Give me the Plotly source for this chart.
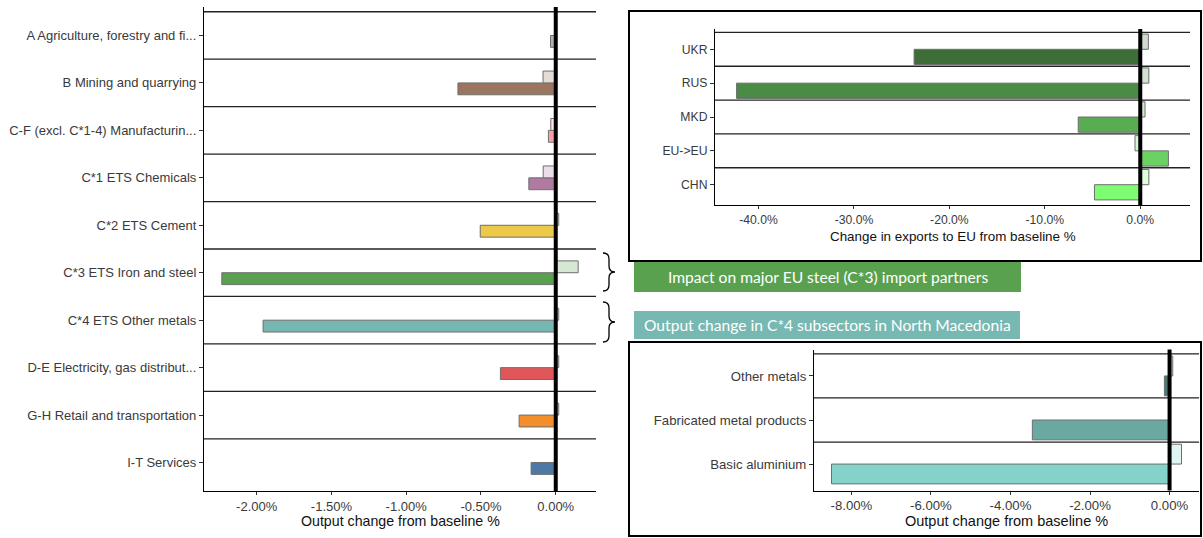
import plotly.graph_objects as go

W, H = 1203, 538

# ---------------- data ----------------
# Sector output change (%), two scenarios per sector
sectors = [
    "A Agriculture, forestry and fi...",
    "B Mining and quarrying",
    "C-F (excl. C*1-4) Manufacturin...",
    "C*1 ETS Chemicals",
    "C*2 ETS Cement",
    "C*3 ETS Iron and steel",
    "C*4 ETS Other metals",
    "D-E Electricity, gas distribut...",
    "G-H Retail and transportation",
    "I-T Services",
]
sector_scen1 = [0.0, -0.085, -0.033, -0.084, 0.02, 0.15, 0.02, 0.02, 0.02, 0.0]
sector_scen2 = [-0.035, -0.654, -0.049, -0.18, -0.505, -2.233, -1.957, -0.37, -0.245, -0.165]
sector_colors = ["#bab0ac", "#9c755f", "#ff9da7", "#b07aa1", "#edc948",
                 "#59a14f", "#76b7b2", "#e15759", "#f28e2b", "#4e79a7"]
sector_ticks = [-2.0, -1.5, -1.0, -0.5, 0.0]

# Steel (C*3) exports to the EU by partner, change (%)
partners = ["UKR", "RUS", "MKD", "EU->EU", "CHN"]
partner_scen1 = [0.85, 0.9, 0.5, -0.55, 0.9]
partner_scen2 = [-23.7, -42.3, -6.5, 2.95, -4.8]
partner_colors = ["#3d6e38", "#4a8b45", "#5aac52", "#6bd162", "#7efd72"]
partner_ticks = [-40, -30, -20, -10, 0]

# C*4 subsectors in North Macedonia, output change (%)
subsectors = ["Other metals", "Fabricated metal products", "Basic aluminium"]
sub_scen1 = [0.08, 0.0, 0.3]
sub_scen2 = [-0.13, -3.45, -8.5]
sub_colors = ["#4c7c78", "#6aa8a2", "#84d3cb"]
sub_ticks = [-8, -6, -4, -2, 0]

# ---------------- helpers ----------------
OUTLINE = "#6e6e6e"
FONT = "Liberation Sans, Arial, sans-serif"


def px(x):
    return x / W


def py(y):
    return 1 - y / H


def lighten(hex_color, alpha=0.25):
    h = hex_color.lstrip("#")
    rgb = [int(h[i:i + 2], 16) for i in (0, 2, 4)]
    mixed = [round(alpha * c + (1 - alpha) * 255) for c in rgb]
    return "#" + "".join(f"{c:02x}" for c in mixed)


def padded_range(*series, pad=0.05):
    vals = [v for s in series for v in s] + [0.0]
    lo, hi = min(vals), max(vals)
    span = hi - lo
    return [lo - pad * span, hi + pad * span]


fig = go.Figure()


def add_panel(idx, labels, v1, v2, colors, bar_w, ticks, fmt, x_dom, y_dom,
              tick_size, title, title_size, title_y):
    xa = "x" if idx == 1 else f"x{idx}"
    ya = "y" if idx == 1 else f"y{idx}"
    n = len(labels)
    pos = list(range(n, 0, -1))
    # lower (coloured) bar of each pair
    fig.add_trace(go.Bar(
        y=pos, x=v2, orientation="h", width=bar_w, offset=-bar_w,
        marker=dict(color=colors, line=dict(color=OUTLINE, width=1)),
        xaxis=xa, yaxis=ya, showlegend=False, hoverinfo="x+y",
    ))
    # upper (light) bar of each pair
    fig.add_trace(go.Bar(
        y=pos, x=v1, orientation="h", width=bar_w, offset=0,
        marker=dict(color=[lighten(c) for c in colors], line=dict(color=OUTLINE, width=1)),
        xaxis=xa, yaxis=ya, showlegend=False, hoverinfo="x+y",
    ))
    xr = padded_range(v1, v2)
    axis_font = dict(family=FONT, size=tick_size, color="#3a3a3a")
    xkey = "xaxis" if idx == 1 else f"xaxis{idx}"
    ykey = "yaxis" if idx == 1 else f"yaxis{idx}"
    fig.update_layout({
        xkey: dict(domain=x_dom, range=xr, anchor=ya, showline=True, linecolor="black",
                   linewidth=1.2, ticks="outside", ticklen=3, tickcolor="#333",
                   tickvals=ticks, ticktext=[fmt.format(t) for t in ticks],
                   tickfont=axis_font, showgrid=False, zeroline=False, fixedrange=True),
        ykey: dict(domain=y_dom, range=[0.4, n + 0.6], anchor=xa, showline=True,
                   linecolor="black", linewidth=1.2, ticks="outside", ticklen=4,
                   tickcolor="#333", tickvals=pos, ticktext=labels, tickfont=axis_font,
                   showgrid=False, zeroline=False, fixedrange=True),
    })
    # row separators
    for k in range(1, n + 1):
        fig.add_shape(type="line", xref=f"{xa} domain", yref=ya, x0=0, x1=1,
                      y0=k + 0.5, y1=k + 0.5, line=dict(color="#222", width=1.3),
                      layer="below")
    # zero reference line
    fig.add_shape(type="line", xref=xa, yref=f"{ya} domain", x0=0, x1=0, y0=0, y1=1,
                  line=dict(color="black", width=4), layer="above")
    fig.add_annotation(text=title, xref="paper", yref="paper",
                       x=(x_dom[0] + x_dom[1]) / 2, y=py(title_y), showarrow=False,
                       xanchor="center", yanchor="middle",
                       font=dict(family=FONT, size=title_size, color="#111"))


add_panel(1, sectors, sector_scen1, sector_scen2, sector_colors, 0.25, sector_ticks,
          "{:.2f}%", [px(204), px(596)], [py(491), py(7)], 13,
          "Output change from baseline %", 14.2, 521)
add_panel(2, partners, partner_scen1, partner_scen2, partner_colors, 0.45, partner_ticks,
          "{:.1f}%", [px(715), px(1190)], [py(205), py(29)], 12.2,
          "Change in exports to EU from baseline %", 13.4, 236)
add_panel(3, subsectors, sub_scen1, sub_scen2, sub_colors, 0.45, sub_ticks,
          "{:.2f}%", [px(814), px(1199)], [py(490.5), py(349.5)], 13.2,
          "Output change from baseline %", 14.5, 521)

# frames around the two detail panels
for (x0, y0, x1, y1) in [(629, 11, 1201, 261), (629, 342, 1201, 536)]:
    fig.add_shape(type="rect", xref="paper", yref="paper", x0=px(x0), x1=px(x1),
                  y0=py(y1), y1=py(y0), line=dict(color="black", width=2),
                  fillcolor="rgba(0,0,0,0)")

# banners
banners = [
    ("Impact on major EU steel (C*3) import partners", "#5aa14f", (634, 262, 1021, 292)),
    ("Output change in C*4 subsectors in North Macedonia", "#78b8b2", (634, 311, 1020, 339)),
]
for text, color, (x0, y0, x1, y1) in banners:
    fig.add_shape(type="rect", xref="paper", yref="paper", x0=px(x0), x1=px(x1),
                  y0=py(y1), y1=py(y0), line=dict(width=0), fillcolor=color)
    fig.add_annotation(text=text, xref="paper", yref="paper", x=px((x0 + x1) / 2),
                       y=py((y0 + y1) / 2), showarrow=False, xanchor="center",
                       yanchor="middle", font=dict(family="Lato, Open Sans, sans-serif",
                                                   size=15.6, color="white"))


# curly braces linking the left rows to the banners
def brace_path(x0, x1, yt, yb, r=6):
    xm = (x0 + x1) / 2
    ym = (yt + yb) / 2
    pts = [
        f"M {px(x0)},{py(yt)}",
        f"Q {px(xm)},{py(yt)} {px(xm)},{py(yt + r)}",
        f"L {px(xm)},{py(ym - r)}",
        f"Q {px(xm)},{py(ym)} {px(x1)},{py(ym)}",
        f"Q {px(xm)},{py(ym)} {px(xm)},{py(ym + r)}",
        f"L {px(xm)},{py(yb - r)}",
        f"Q {px(xm)},{py(yb)} {px(x0)},{py(yb)}",
    ]
    return " ".join(pts)


for yt, yb in [(253, 291), (302, 342)]:
    fig.add_shape(type="path", xref="paper", yref="paper", path=brace_path(603, 615, yt, yb),
                  line=dict(color="black", width=1.3))

fig.update_layout(
    width=W, height=H, margin=dict(l=0, r=0, t=0, b=0),
    paper_bgcolor="white", plot_bgcolor="white", barmode="overlay",
    showlegend=False,
)

fig.write_html("out.html")
